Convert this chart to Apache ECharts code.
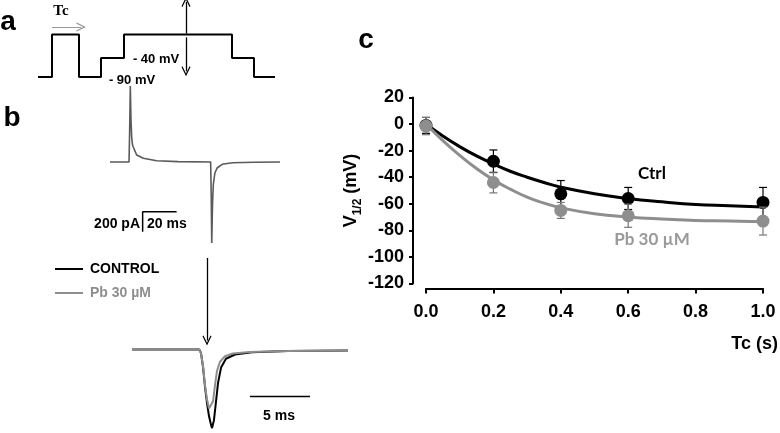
<!DOCTYPE html>
<html>
<head>
<meta charset="utf-8">
<script src="https://cdn.jsdelivr.net/npm/echarts@6/dist/echarts.min.js"></script>
<style>html,body{margin:0;padding:0;background:#fff}#c{width:780px;height:433px}</style>
</head>
<body>
<div id="c"></div>
<script>
// ---- panel a: voltage protocol (arbitrary time units, mV) ----
const protoT = [0, 14, 14, 41, 41, 63, 63, 86, 86, 194, 194, 216, 216, 237];
const protoV = [-90, -90, 0, 0, -90, -90, -50, -50, 0, 0, -50, -50, -90, -90];
const arrowUp = [[148, 2], [148, 69]];
const arrowDown = [[148, -6], [148, -78]];
const tcArrow = [[14, 16], [43, 16]];

// ---- panel b: current traces (ms, pA) ----
const topT = [0, 11.2, 11.6, 11.95, 12.35, 12.75, 13.2, 13.7, 15.7, 19.6, 27.5, 40, 59.2, 59.55, 59.85, 60.3, 60.8, 61.7, 63, 66, 72, 85, 100];
const topI = [0, 0, 350, 760, 420, 250, 175, 150, 70, 37, 13, 4, 0, -350, -810, -420, -220, -110, -60, -23, -8, -2, 0];
const scaleBarT = [19.2, 19.2, 39.2];
const scaleBarI = [-697, -497, -497];

const ctrlTraceT = [0, 5.6, 5.75, 5.92, 6.08, 6.25, 6.42, 6.58, 6.67, 6.83, 7.0, 7.17, 7.42, 7.83, 8.58, 10, 13, 18];
const ctrlTraceI = [0, 0, -35, -180, -375, -545, -680, -765, -800, -720, -530, -340, -185, -95, -52, -30, -15, -10];
const pbTraceT = [0, 5.6, 5.75, 5.92, 6.08, 6.25, 6.42, 6.56, 6.75, 6.92, 7.08, 7.33, 7.75, 8.4, 9.8, 13, 18];
const pbTraceI = [0, 0, -40, -170, -360, -510, -600, -620, -530, -360, -220, -125, -70, -42, -27, -15, -10];
const arrowB = [[6.25, 930], [6.25, 90]];
const bar5T = [9.83, 14.83];
const bar5I = [-480, -480];

// ---- panel c: V1/2 vs Tc ----
const tc = [0, 0.2, 0.4, 0.6, 1.0];
const ctrlMean = [-1, -28, -52.5, -56, -59];
const ctrlErr = [6, 8.5, 10, 8.3, 11.3];
const pbMean = [-1.5, -44, -65, -69, -73];
const pbErr = [6.5, 7.8, 6, 8.7, 10.5];
const fitX = [0, 0.05, 0.1, 0.15, 0.2, 0.25, 0.3, 0.35, 0.4, 0.5, 0.6, 0.7, 0.8, 0.9, 1.0];
const ctrlFit = [0, -9, -17, -24, -30, -35.5, -40, -44, -47.5, -52.5, -56, -58.5, -60.5, -61.5, -62.5];
const pbFit = [0, -12.5, -23.5, -33.5, -42, -49, -55, -59.5, -63, -67.5, -70, -71.5, -72.5, -73, -73.5];
const yTicks = {min: -120, max: 20, interval: 20};
const xTicks = {min: 0, max: 1, interval: 0.2};

const zip = (a, b) => a.map((v, i) => [v, b[i]]);
const F = 'Liberation Sans, Arial, sans-serif';
const GRAY = '#8e8e8e';
const chevron = 'path://M5,0 L10,9 L8.9,9.7 L5,2.8 L1.1,9.7 L0,9 Z';

function errBar(color) {
  return function (params, api) {
    const x = api.value(0), m = api.value(1), e = api.value(2);
    const pt = api.coord([x, m + e]);
    const pb = api.coord([x, m - e]);
    const w = 4;
    const st = {stroke: color, lineWidth: 1.2};
    return {type: 'group', children: [
      {type: 'line', shape: {x1: pt[0], y1: pt[1], x2: pb[0], y2: pb[1]}, style: st},
      {type: 'line', shape: {x1: pt[0] - w, y1: pt[1], x2: pt[0] + w, y2: pt[1]}, style: st},
      {type: 'line', shape: {x1: pb[0] - w, y1: pb[1], x2: pb[0] + w, y2: pb[1]}, style: st}
    ]};
  };
}

const hiddenX = (i, min, max) => ({type: 'value', gridIndex: i, min, max, show: false});
const hiddenY = (i, min, max) => ({type: 'value', gridIndex: i, min, max, show: false});

const txt = (text, x, y, opts) => Object.assign({
  type: 'text', x, y, silent: true,
  style: Object.assign({text, fill: '#000', font: 'bold 14px ' + F, align: 'center', verticalAlign: 'middle'}, opts || {})
});

const chart = echarts.init(document.getElementById('c'), null, {renderer: 'canvas'});
chart.setOption({
  animation: false,
  backgroundColor: '#fff',
  grid: [
    {left: 38, top: 1.45, width: 240, height: 75.56},
    {left: 110, top: 82, width: 170, height: 170},
    {left: 132, top: 256, width: 216, height: 180},
    {left: 426, top: 97.5, width: 337, height: 186}
  ],
  xAxis: [
    hiddenX(0, 0, 240),
    hiddenX(1, 0, 100),
    hiddenX(2, 0, 18),
    {
      type: 'value', gridIndex: 3, min: xTicks.min, max: xTicks.max, interval: xTicks.interval, offset: 5,
      axisLine: {show: true, onZero: false, lineStyle: {color: '#000', width: 2}},
      axisTick: {show: true, length: 5, lineStyle: {color: '#000', width: 2}},
      axisLabel: {margin: 15, color: '#000', fontSize: 18, fontWeight: 'bold', fontFamily: F, formatter: v => v.toFixed(1)},
      splitLine: {show: false}
    }
  ],
  yAxis: [
    hiddenY(0, -90, 70),
    hiddenY(1, -900, 800),
    hiddenY(2, -850, 950),
    {
      type: 'value', gridIndex: 3, min: yTicks.min, max: yTicks.max, interval: yTicks.interval, offset: 13,
      axisLine: {show: true, onZero: false, lineStyle: {color: '#000', width: 2}},
      axisTick: {show: true, length: 4, lineStyle: {color: '#000', width: 2}},
      axisLabel: {margin: 9, color: '#000', fontSize: 18, fontWeight: 'bold', fontFamily: F},
      splitLine: {show: false},
      name: '{v|V}{s|1/2}{v| (mV)}',
      nameLocation: 'middle', nameRotate: 90, nameGap: 44,
      nameTextStyle: {
        color: '#000',
        rich: {
          v: {fontSize: 18, fontWeight: 'bold', fontFamily: F, color: '#000', lineHeight: 22, verticalAlign: 'top'},
          s: {fontSize: 12, fontWeight: 'bold', fontFamily: F, color: '#000', padding: [10, 0, 0, 0], verticalAlign: 'top'}
        }
      }
    }
  ],
  legend: {
    left: 50, top: 257, orient: 'vertical', itemWidth: 28, itemHeight: 2, itemGap: 10,
    icon: 'rect', selectedMode: false,
    textStyle: {fontSize: 14, fontWeight: 'bold', fontFamily: F, padding: [0, 0, 0, 2]},
    data: [
      {name: 'CONTROL', textStyle: {color: '#000'}},
      {name: 'Pb 30 µM', textStyle: {color: GRAY}}
    ]
  },
  series: [
    {
      type: 'line', name: 'protocol', xAxisIndex: 0, yAxisIndex: 0, data: zip(protoT, protoV),
      symbol: 'none', clip: false, lineStyle: {color: '#000', width: 2}, itemStyle: {color: '#000'},
      markLine: {
        silent: true, symbol: ['none', chevron], symbolSize: [9, 10], label: {show: false},
        lineStyle: {color: '#000', width: 1.3, type: 'solid'},
        data: [
          [{coord: arrowUp[0]}, {coord: arrowUp[1]}],
          [{coord: arrowDown[0]}, {coord: arrowDown[1]}],
          [{coord: tcArrow[0], lineStyle: {color: '#999', width: 1}}, {coord: tcArrow[1]}]
        ]
      }
    },
    {
      type: 'line', name: 'trace', xAxisIndex: 1, yAxisIndex: 1, data: zip(topT, topI),
      symbol: 'none', clip: false, lineStyle: {color: '#5a5a5a', width: 1.6}
    },
    {
      type: 'line', name: 'bar20', xAxisIndex: 1, yAxisIndex: 1, data: zip(scaleBarT, scaleBarI),
      symbol: 'none', clip: false, lineStyle: {color: '#000', width: 1.5}
    },
    {
      type: 'line', name: 'CONTROL', xAxisIndex: 2, yAxisIndex: 2, data: zip(ctrlTraceT, ctrlTraceI),
      symbol: 'none', clip: false, lineStyle: {color: '#000', width: 2}, itemStyle: {color: '#000'},
      markLine: {
        silent: true, symbol: ['none', chevron], symbolSize: [9, 10], label: {show: false},
        lineStyle: {color: '#000', width: 1.3, type: 'solid'},
        data: [[{coord: arrowB[0]}, {coord: arrowB[1]}]]
      }
    },
    {
      type: 'line', name: 'Pb 30 µM', xAxisIndex: 2, yAxisIndex: 2, data: zip(pbTraceT, pbTraceI),
      symbol: 'none', clip: false, lineStyle: {color: GRAY, width: 2}, itemStyle: {color: GRAY}
    },
    {
      type: 'line', name: 'bar5', xAxisIndex: 2, yAxisIndex: 2, data: zip(bar5T, bar5I),
      symbol: 'none', clip: false, lineStyle: {color: '#000', width: 1.5}
    },
    {
      type: 'line', name: 'ctrlFit', xAxisIndex: 3, yAxisIndex: 3, data: zip(fitX, ctrlFit),
      smooth: true, symbol: 'none', lineStyle: {color: '#000', width: 3}, z: 2
    },
    {
      type: 'line', name: 'pbFit', xAxisIndex: 3, yAxisIndex: 3, data: zip(fitX, pbFit),
      smooth: true, symbol: 'none', lineStyle: {color: GRAY, width: 3}, z: 2
    },
    {
      type: 'custom', name: 'ctrlErr', xAxisIndex: 3, yAxisIndex: 3, renderItem: errBar('#000'),
      data: tc.map((x, i) => [x, ctrlMean[i], ctrlErr[i]]), z: 3
    },
    {
      type: 'scatter', name: 'ctrlPts', xAxisIndex: 3, yAxisIndex: 3, data: zip(tc, ctrlMean),
      symbolSize: 13, itemStyle: {color: '#000', opacity: 1}, z: 4
    },
    {
      type: 'custom', name: 'pbErr', xAxisIndex: 3, yAxisIndex: 3, renderItem: errBar('#777'),
      data: tc.map((x, i) => [x, pbMean[i], pbErr[i]]), z: 5
    },
    {
      type: 'scatter', name: 'pbPts', xAxisIndex: 3, yAxisIndex: 3, data: zip(tc, pbMean),
      symbolSize: 13, itemStyle: {color: GRAY, opacity: 1}, z: 6
    }
  ],
  graphic: [
    txt('a', 8, 22, {font: 'bold 28px ' + F}),
    txt('b', 12, 118, {font: 'bold 28px ' + F}),
    txt('c', 366, 40, {font: 'bold 28px ' + F}),
    txt('Tc', 61, 11, {font: 'bold 15px "Liberation Serif", "DejaVu Serif", serif'}),
    txt('- 40 mV', 156, 59, {font: 'bold 13px ' + F}),
    txt('- 90 mV', 132, 80, {font: 'bold 13px ' + F}),
    txt('200 pA', 140, 224, {align: 'right'}),
    txt('20 ms', 147, 224, {align: 'left'}),
    txt('5 ms', 279, 416),
    txt('Ctrl', 652, 174, {font: 'bold 17px Lato, "Open Sans", sans-serif'}),
    txt('Pb 30 µM', 652, 240, {font: 'bold 17px Lato, "Open Sans", sans-serif', fill: '#999'}),
    txt('Tc (s)', 778, 344, {font: 'bold 18px ' + F, align: 'right'})
  ]
});
</script>
</body>
</html>
